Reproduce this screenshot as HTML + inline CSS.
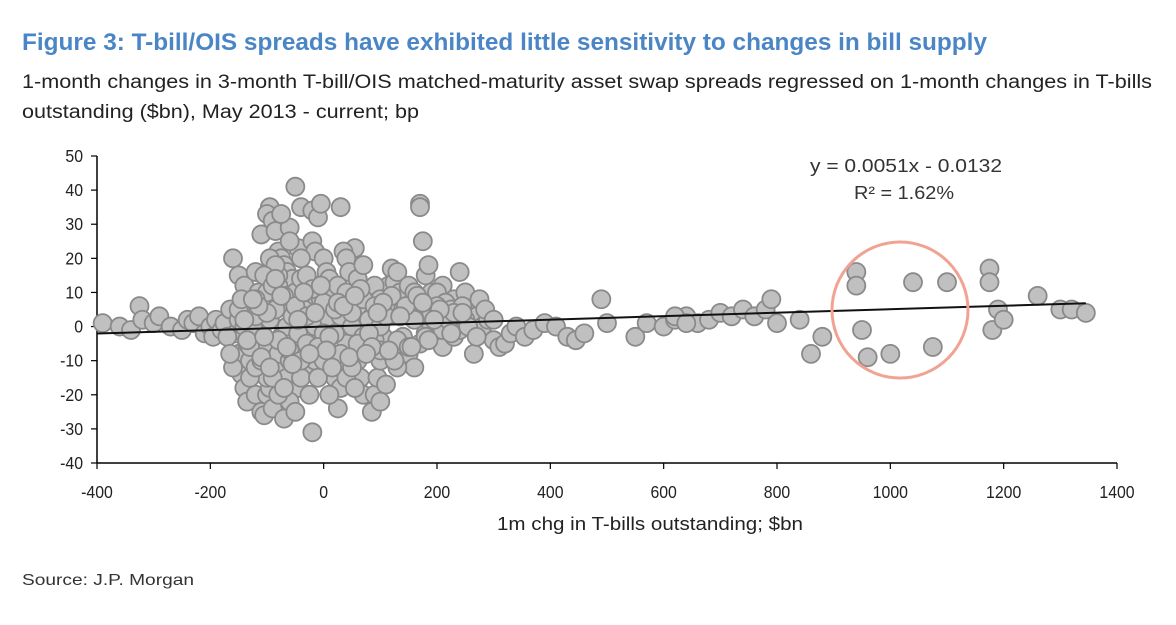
<!DOCTYPE html>
<html><head><meta charset="utf-8"><style>
html,body{margin:0;padding:0;background:#fff;}
svg text{font-family:"Liberation Sans Narrow","Liberation Sans",sans-serif;}
</style></head><body>
<svg id="chart" width="1176" height="620" viewBox="0 0 1176 620" xmlns="http://www.w3.org/2000/svg">
<text x="22" y="50" font-size="24" font-weight="bold" fill="#4a86c5" textLength="965" lengthAdjust="spacingAndGlyphs">Figure 3: T-bill/OIS spreads have exhibited little sensitivity to changes in bill supply</text>
<text x="22" y="88" font-size="19" fill="#222" textLength="1130" lengthAdjust="spacingAndGlyphs">1-month changes in 3-month T-bill/OIS matched-maturity asset swap spreads regressed on 1-month changes in T-bills</text>
<text x="22" y="118" font-size="19" fill="#222" textLength="397" lengthAdjust="spacingAndGlyphs">outstanding ($bn), May 2013 - current; bp</text>
<g id="axes"></g>
<g id="points"></g>
<g id="trend"></g>
<circle cx="900" cy="310" r="68" fill="none" stroke="#f0a393" stroke-width="3"/>
<text x="906" y="172" font-size="18" fill="#333" text-anchor="middle" textLength="192" lengthAdjust="spacingAndGlyphs">y = 0.0051x - 0.0132</text>
<text x="904" y="199" font-size="18" fill="#333" text-anchor="middle" textLength="100" lengthAdjust="spacingAndGlyphs">R² = 1.62%</text>
<text x="497" y="530" font-size="18" fill="#222" textLength="306" lengthAdjust="spacingAndGlyphs">1m chg in T-bills outstanding; $bn</text>
<text x="22" y="585" font-size="16" fill="#333" textLength="172" lengthAdjust="spacingAndGlyphs">Source: J.P. Morgan</text>
</svg>
<script>
const xTicks = [-400,-200,0,200,400,600,800,1000,1200,1400];
const yTicks = [50,40,30,20,10,0,-10,-20,-30,-40];
const slope = 0.0051;
const intercept = -0.0132;
const billChanges = [-390,-360,-340,-325,-320,-300,-290,-270,-250,-240,-230,-220,-210,-200,-195,-190,-180,-175,
-160,-150,-140,-130,-165,-155,-150,-145,-140,-135,-160,-130,-125,-120,-115,-110,-120,-110,-105,-100,-95,-90,-100,-110,-115,-125,-140,-170,-165,-150,-135,
-110,-95,-100,-90,-85,-80,-75,-70,-65,-55,-50,-60,-45,-40,-75,-80,-70,-60,-50,-40,-30,-20,-15,-20,-10,-5,0,5,10,
-85,-75,-65,-55,-45,-35,-25,-15,-5,-20,-60,-70,-80,-90,-95,-85,-75,-65,-55,-45,-35,-25,-15,-5,5,15,25,20,30,35,40,45,50,55,60,65,70,75,80,85,90,95,100,105,110,115,120,125,130,135,140,150,160,170,170,175,180,185,190,200,210,220,230,240,250,260,265,270,275,280,290,300,310,320,330,340,355,370,390,410,430,445,460,490,500,550,570,600,620,640,660,680,700,720,740,760,780,790,840,860,880,940,940,950,960,1000,1040,1075,1100,1175,1175,1180,1190,1200,1260,1300,1320,1345,800,620,640,
30,35,40,45,60,70,80,90,100,120,140,150,160,170,180,190,200,210,230,240,250,0,10,20,30,50,60,70,80,90,100,
-130,-120,-110,-100,-90,-80,-70,-60,-50,-40,-30,-10,0,10,40,50,55,120,130,110,100,
-150,-145,-140,-135,-125,-120,0,15,25,-10,-30,-40,-60,-80,-100,-95,-85,-105,150,160,200,215,225,245,255,270,285,300,
-140,-130,-120,-110,-100,-90,-80,-70,-60,-50,-40,-30,-20,-10,0,10,20,30,40,50,60,70,80,90,100,110,120,130,140,150,160,170,180,190,200,210,220,230,
-135,-115,-95,-75,-55,-35,-15,5,25,45,65,85,105,125,145,165,185,205,225,245,
-125,-105,-85,-65,-45,-25,-5,15,35,55,75,95,115,135,155,175,195];
const spreadChanges = [1,0,-1,6,2,1,3,0,-1,2,1,3,-2,0,-3,2,-1,1,
20,15,12,5,5,-2,-8,-14,-18,-22,-12,-10,8,16,10,-5,-20,-25,-26,-20,-18,-24,-15,0,3,-5,-2,-3,-8,2,3,
27,35,33,31,28,22,20,18,16,14,41,29,23,35,33,12,8,5,10,14,8,25,22,34,32,36,20,16,14,
-10,-12,-15,-8,-18,-12,-20,-10,-5,-31,-22,-27,-20,-8,2,5,-3,0,3,-2,5,2,0,8,-3,-8,-24,-15,-18,-10,-5,2,22,23,-10,-15,-20,-5,8,-25,-20,-15,-10,-3,5,12,17,13,16,10,8,5,3,36,35,25,15,18,10,5,12,3,8,16,10,5,-8,3,8,0,2,-4,-6,-5,-2,0,-3,-1,1,0,-3,-4,-2,8,1,-3,1,0,2,3,1,2,4,3,5,3,5,8,2,-8,-3,16,12,-1,-9,-8,13,-6,13,17,13,-1,5,2,9,5,5,4,1,3,1,
35,22,20,16,14,18,10,12,8,4,-3,-8,-12,-5,-2,0,-4,-6,-3,-1,2,5,2,-2,3,0,6,-3,2,-4,0,
-15,-12,-10,-5,-15,-8,-18,-10,-25,-15,-5,-15,-10,-20,-15,-12,-18,-8,-12,-17,-22,
5,8,0,-5,0,3,-2,10,12,12,15,20,25,15,10,20,18,15,12,10,10,7,5,6,0,-3,5,2,
2,-6,8,-9,4,12,-4,9,-7,6,-10,3,11,-6,7,-3,5,-8,10,4,-5,8,-2,6,-7,3,9,-4,5,-6,2,7,-3,4,6,-1,2,4,
-4,6,-12,9,-11,10,4,-7,7,-9,11,-6,7,-10,6,9,-4,5,-2,4,
8,-3,14,-6,2,-8,12,-12,6,9,-8,4,-7,3,-6,7,2];
const NS='http://www.w3.org/2000/svg';
const X0=97,X1=1117,XMIN=-400,XMAX=1400,YTOP=156,YBOT=463,YMIN=-40,YMAX=50;
const xs=v=>X0+(v-XMIN)/(XMAX-XMIN)*(X1-X0);
const ys=v=>YBOT-(v-YMIN)/(YMAX-YMIN)*(YBOT-YTOP);
function mk(tag,attrs,parent){const e=document.createElementNS(NS,tag);for(const k in attrs)e.setAttribute(k,attrs[k]);parent.appendChild(e);return e;}
const axes=document.getElementById('axes');
let yl=mk('line',{x1:X0,y1:YTOP,x2:X0,y2:YBOT,stroke:'#000','stroke-width':1.5},axes);


let xl=mk('line',{x1:X0,y1:YBOT,x2:X1,y2:YBOT,stroke:'#000','stroke-width':1.5},axes);


yTicks.forEach(v=>{
  mk('line',{x1:X0-6,y1:ys(v),x2:X0,y2:ys(v),stroke:'#000','stroke-width':1.2},axes);
  const t=mk('text',{x:X0-14,y:ys(v)+6,'font-size':18,'text-anchor':'end',fill:'#222',transform:'translate('+(X0-14)+',0) scale(0.88,1) translate('+(-(X0-14))+',0)'},axes);
  t.textContent=v;
  
  
});
xTicks.forEach(v=>{
  mk('line',{x1:xs(v),y1:YBOT,x2:xs(v),y2:YBOT+6,stroke:'#000','stroke-width':1.2},axes);
  const t=mk('text',{x:xs(v),y:YBOT+35,'font-size':18,'text-anchor':'middle',fill:'#222',transform:'translate('+xs(v)+',0) scale(0.88,1) translate('+(-xs(v))+',0)'},axes);
  t.textContent=v;
  
  
});
const pts=document.getElementById('points');
billChanges.forEach((x,i)=>{
  const c=mk('circle',{cx:xs(x),cy:ys(spreadChanges[i]),r:9,fill:'#c0c0c0',stroke:'#8a8a8a','stroke-width':1.8},pts);
  
  
});
const tr=document.getElementById('trend');
const lx0=-400,lx1=1345;
const ln=mk('line',{x1:xs(lx0),y1:ys(slope*lx0+intercept),x2:xs(lx1),y2:ys(slope*lx1+intercept),stroke:'#111','stroke-width':2},tr);


</script>
</body></html>
